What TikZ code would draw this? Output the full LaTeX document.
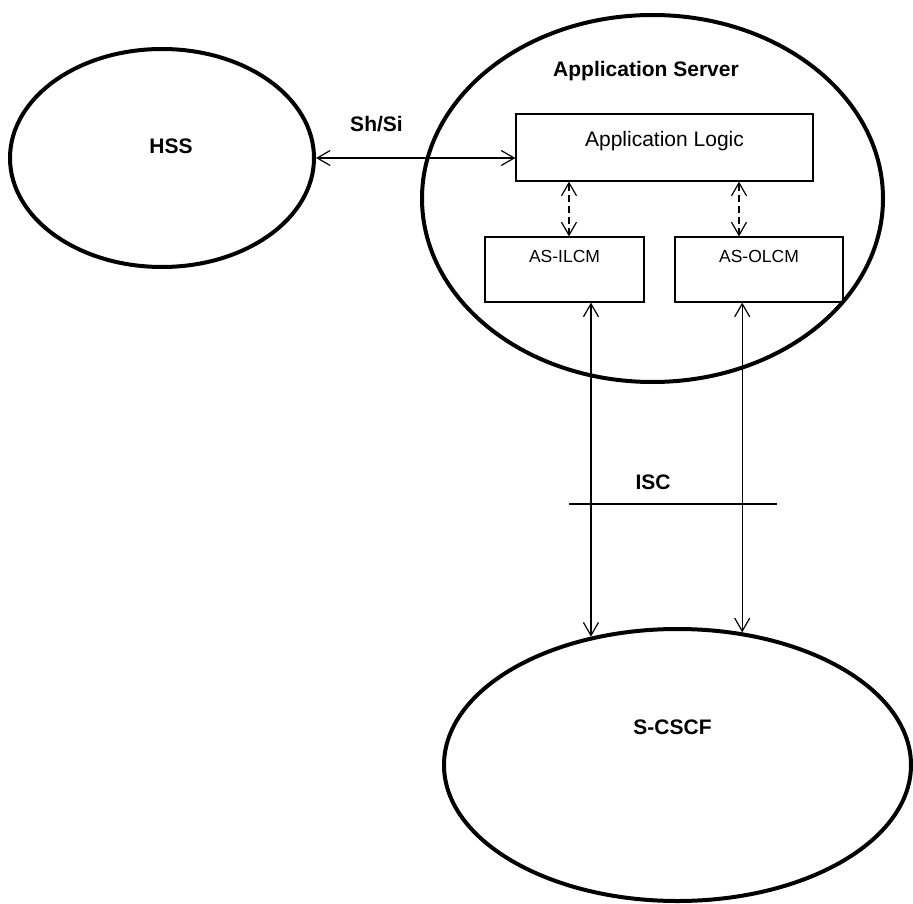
\documentclass[tikz,border=0pt]{standalone}
\usepackage{fontspec}
\setmainfont{Liberation Sans}
\usepackage{tikz}
\usetikzlibrary{shapes.geometric,arrows.meta}

\begin{document}
\begin{tikzpicture}[x=1pt, y=-1pt,
    oval/.style={ellipse, draw, line width=4pt, inner sep=0pt},
    block/.style={rectangle, draw, line width=1.2pt, font=\fontsize{21}{25}\selectfont, text height=16pt, text depth=17pt},
    lcm/.style={rectangle, draw, line width=1.2pt, minimum height=65pt, font=\fontsize{17.5}{21}\selectfont, text height=13pt, text depth=28pt},
    lbl/.style={anchor=base, inner sep=0pt, font=\bfseries\fontsize{21}{25}\selectfont},
    link/.style={{Straight Barb[length=13pt,width=15pt]}-{Straight Barb[length=13pt,width=15pt]}, line width=1.2pt}]
        \useasboundingbox (0,0) rectangle (913,904);
        \node[oval, minimum width=304pt, minimum height=218pt] (HSS) at (162,158) {};
        \node[oval, minimum width=461pt, minimum height=367pt] (AS) at (652.5,198.5) {};
        \node[oval, minimum width=467pt, minimum height=272pt] (CSCF) at (677.5,765) {};
        \node[lbl] (HSSt) at (171,154) {HSS};
        \node[lbl] (ASt) at (646,77) {Application Server};
        \node[lbl] (CSCFt) at (672.5,734) {S-CSCF};
        \node[block, minimum width=297pt, minimum height=67pt] (AL) at (664.5,147.5) {Application Logic};
        \node[lcm, minimum width=159pt] (ILCM) at (564.5,269.5) {AS-ILCM};
        \node[lcm, minimum width=168pt] (OLCM) at (759,269.5) {AS-OLCM};
        \coordinate (il) at ([xshift=4.5pt]ILCM.north);
        \coordinate (ol) at ([xshift=-20pt]OLCM.north);
        \draw[link] (HSS.east) -- (HSS.east -| AL.west);
        \node[lbl] (ShSi) at (376.5,132) {Sh/Si};
        \draw[link, dash pattern=on 7pt off 4pt] (il) -- (il |- AL.south);
        \draw[link, dash pattern=on 7pt off 4pt] (ol) -- (ol |- AL.south);
        \draw[link] (CSCF.124.4 |- ILCM.south) -- (CSCF.124.4);
        \draw[link] (CSCF.64.9 |- OLCM.south) -- (CSCF.64.9);
        \coordinate (isc1) at (569,504);
        \coordinate (isc2) at (777,504);
        \draw[line width=1.2pt] (isc1) -- (isc2);
        \node[lbl] (ISC) at (653,489) {ISC};
\end{tikzpicture}
\end{document}
